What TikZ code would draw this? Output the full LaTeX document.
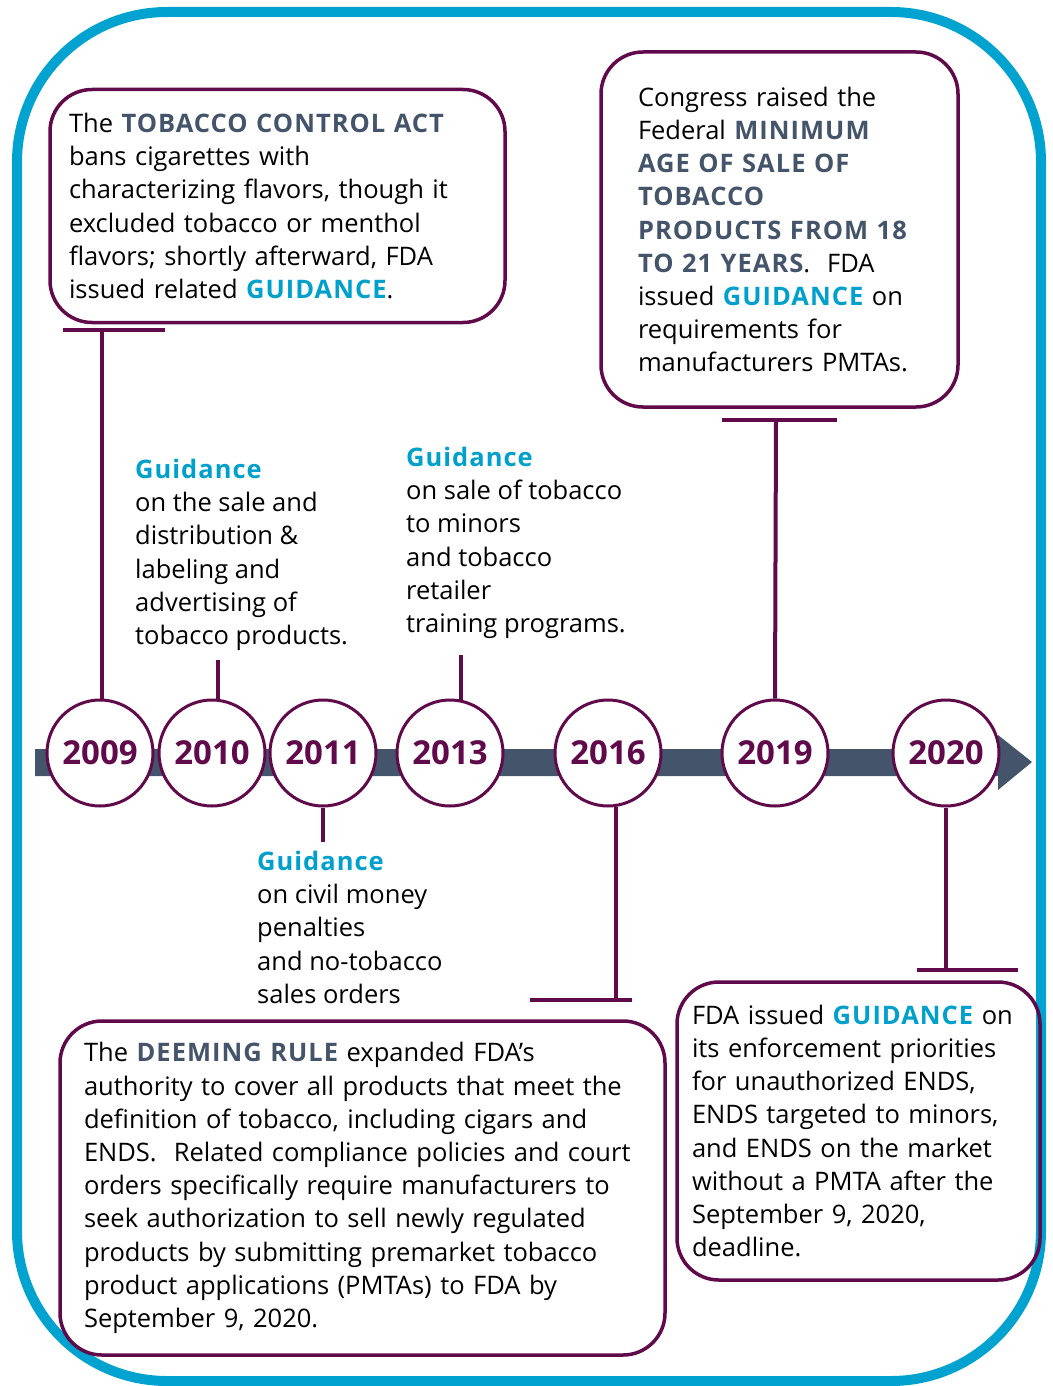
\documentclass[tikz,border=0pt]{standalone}
\usepackage{fontspec}
\setmainfont{Open Sans}
\usepackage{xcolor}
\usetikzlibrary{positioning}
\usetikzlibrary{calc}
\definecolor{frameblue}{RGB}{0,163,208}
\definecolor{guidblue}{RGB}{0,160,204}
\definecolor{slate}{RGB}{68,84,106}
\definecolor{plum}{RGB}{96,10,75}
\newcommand{\hl}[1]{\textbf{\addfontfeatures{LetterSpace=4}\textcolor{slate}{#1}}}
\newcommand{\gd}[1]{\textbf{\addfontfeatures{LetterSpace=4}\textcolor{guidblue}{#1}}}

\begin{document}
\begin{tikzpicture}[x=1pt, y=-1pt,
		every node/.style={font=\fontsize{25.5}{33.2}\selectfont},
		year/.style={circle, draw=plum, line width=3pt, fill=white,
			minimum size=106pt, inner sep=0pt, text=plum,
			font=\fontsize{33}{38}\selectfont\bfseries},
		event/.style={draw=plum, line width=3.5pt, rounded corners=42pt,
			align=left, inner ysep=0pt},
		note/.style={align=left, inner sep=0pt, anchor=north west},
		stem/.style={draw=plum, line width=4pt}]
		\useasboundingbox (0,0) rectangle (1052,1386);
		%% Frame and time axis
		\draw [frameblue, line width=10pt, rounded corners=150pt] (17,12) rectangle (1041,1381);
		\fill [slate] (35,749) -- (998,749) -- (998,735) -- (1032,762) -- (998,790) -- (998,776) -- (35,776) -- cycle;
		%% Years
		\node [year] at (100,753) (y2009) {2009};
		\node [year] at (212,753) (y2010) {2010};
		\node [year] at (323,753) (y2011) {2011};
		\node [year] at (450,753) (y2013) {2013};
		\node [year] at (608,753) (y2016) {2016};
		\node [year] at (775,753) (y2019) {2019};
		\node [year] at (946,753) (y2020) {2020};
		%% Events
		\node [event, minimum width=455pt, minimum height=233pt, text width=417pt, inner xsep=19pt]
			at (277.5,206) (e2009) {The \hl{TOBACCO CONTROL ACT}\\bans cigarettes with\\characterizing flavors, though it\\excluded tobacco or menthol\\flavors; shortly afterward, FDA\\issued related \gd{GUIDANCE}.};
		\node [event, minimum width=357pt, minimum height=355pt, text width=283pt, inner xsep=37pt]
			at (779.5,229.5) (e2019) {Congress raised the\\Federal \hl{MINIMUM}\\\hl{AGE OF SALE OF}\\\hl{TOBACCO}\\\hl{PRODUCTS FROM 18}\\\hl{TO 21 YEARS}.\ \ FDA\\issued \gd{GUIDANCE} on\\requirements for\\manufacturers PMTAs.};
		\node [event, minimum width=605pt, minimum height=334pt, text width=557pt, inner xsep=24pt]
			at (362.5,1188) (e2016) {The \hl{DEEMING RULE} expanded FDA’s\\authority to cover all products that meet the\\definition of tobacco, including cigars and\\ENDS.\ \ Related compliance policies and court\\orders specifically require manufacturers to\\seek authorization to sell newly regulated\\products by submitting premarket tobacco\\product applications (PMTAs) to FDA by\\September 9, 2020.};
		\node [event, minimum width=363pt, minimum height=298pt, text width=333pt, inner xsep=15pt]
			at (858.5,1131) (e2020) {FDA issued \gd{GUIDANCE} on\\its enforcement priorities\\for unauthorized ENDS,\\ENDS targeted to minors,\\and ENDS on the market\\without a PMTA after the\\September 9, 2020,\\deadline.};
		%% Guidance notes
		\node [note] at (135,459) (n2010) {\gd{Guidance}\\on the sale and\\distribution \&\\labeling and\\advertising of\\tobacco products.};
		\node [note] at (406,447) (n2013) {\gd{Guidance}\\on sale of tobacco\\to minors\\and tobacco\\retailer\\training programs.};
		\node [note] at (257,851) (n2011) {\gd{Guidance}\\on civil money\\penalties\\and no-tobacco\\sales orders};
		%% Stems
		\coordinate (t2009) at (102,330);
		\coordinate (t2010) at (217,660);
		\coordinate (t2013) at (461,655);
		\coordinate (t2019) at (776,420);
		\coordinate (t2011) at (323,842);
		\coordinate (t2016) at (615,1000);
		\coordinate (t2020) at (946,970);
		\path [stem] (y2009.north -| t2009) -- (t2009);
		\path [stem] (t2009) ++(-39,0) -- ++(102,0);
		\path [stem] (y2010.84) -- (y2010.84 |- t2010);
		\path [stem] (y2013.78) -- (y2013.78 |- t2013);
		\path [stem] (y2019.north) -- (t2019);
		\path [stem] (t2019) ++(-54,0) -- ++(115,0);
		\path [stem] (y2011.south) -- (t2011);
		\path [stem] (y2016.278) -- (y2016.278 |- t2016);
		\path [stem] (t2016) ++(-85,0) -- ++(102,0);
		\path [stem] (y2020.south) -- (t2020);
		\path [stem] (t2020) ++(-29,0) -- ++(101,0);
	\end{tikzpicture}
\end{document}
